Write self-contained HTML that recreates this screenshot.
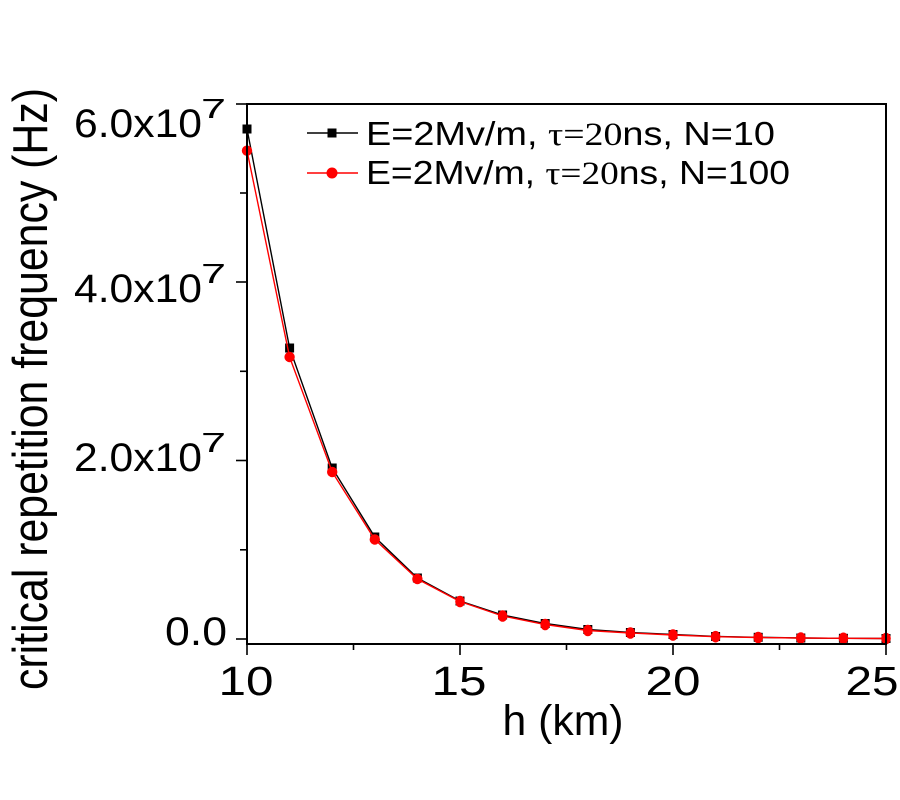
<!DOCTYPE html>
<html>
<head>
<meta charset="utf-8">
<style>
  html, body { margin: 0; padding: 0; background: #ffffff; }
  svg { display: block; }
  text { font-family: "Liberation Sans", Arial, sans-serif; fill: #000; }
</style>
</head>
<body>
<svg width="900" height="800" viewBox="0 0 900 800" xmlns="http://www.w3.org/2000/svg">
  <rect x="0" y="0" width="900" height="800" fill="#ffffff"/>

  <!-- Data series: black (N=10) -->
  <polyline fill="none" stroke="#000" stroke-width="1.4"
    points="247,129 289.6,348 332.2,468 374.8,537 417.4,578 460,601 502.6,615 545.2,623.5 587.8,629.5 630.4,632.5 673,634.5 715.6,636.5 758.2,637.3 800.8,638 843.4,638.3 886,638.5"/>
  <g fill="#000">
    <rect x="242.5" y="124.5" width="9" height="9"/>
    <rect x="285.1" y="343.5" width="9" height="9"/>
    <rect x="327.7" y="463.5" width="9" height="9"/>
    <rect x="370.3" y="532.5" width="9" height="9"/>
    <rect x="412.9" y="573.5" width="9" height="9"/>
    <rect x="455.5" y="596.5" width="9" height="9"/>
    <rect x="498.1" y="610.5" width="9" height="9"/>
    <rect x="540.7" y="619" width="9" height="9"/>
    <rect x="583.3" y="625" width="9" height="9"/>
    <rect x="625.9" y="628" width="9" height="9"/>
    <rect x="668.5" y="630" width="9" height="9"/>
    <rect x="711.1" y="632" width="9" height="9"/>
    <rect x="753.7" y="632.8" width="9" height="9"/>
    <rect x="796.3" y="633.5" width="9" height="9"/>
    <rect x="838.9" y="633.8" width="9" height="9"/>
    <rect x="881.5" y="634" width="9" height="9"/>
  </g>

  <!-- Data series: red (N=100) -->
  <polyline fill="none" stroke="#ff0000" stroke-width="1.4"
    points="247,150.7 289.6,357 332.2,472 374.8,539.5 417.4,579 460,601.5 502.6,616 545.2,624.5 587.8,630.5 630.4,633 673,635 715.6,636.7 758.2,637.5 800.8,638 843.4,638.3 886,638.5"/>
  <g fill="#ff0000">
    <circle cx="247" cy="150.7" r="5.2"/>
    <circle cx="289.6" cy="357" r="5.2"/>
    <circle cx="332.2" cy="472" r="5.2"/>
    <circle cx="374.8" cy="539.5" r="5.2"/>
    <circle cx="417.4" cy="579" r="5.2"/>
    <ellipse cx="460" cy="601.5" rx="4.8" ry="5.8"/>
    <ellipse cx="502.6" cy="616" rx="4.8" ry="5.8"/>
    <ellipse cx="545.2" cy="624.5" rx="4.8" ry="5.8"/>
    <ellipse cx="587.8" cy="630.5" rx="4.8" ry="5.8"/>
    <ellipse cx="630.4" cy="633" rx="4.8" ry="5.8"/>
    <ellipse cx="673" cy="635" rx="4.8" ry="5.8"/>
    <ellipse cx="715.6" cy="636.7" rx="4.8" ry="5.8"/>
    <ellipse cx="758.2" cy="637.5" rx="4.8" ry="5.8"/>
    <ellipse cx="800.8" cy="638" rx="4.8" ry="5.8"/>
    <ellipse cx="843.4" cy="638.3" rx="4.8" ry="5.8"/>
    <ellipse cx="886" cy="638.5" rx="4.8" ry="5.8"/>
  </g>

  <!-- Frame -->
  <rect x="247" y="104" width="639" height="540" fill="none" stroke="#000" stroke-width="2"/>

  <!-- X ticks -->
  <g stroke="#000" stroke-width="1.6">
    <line x1="247" y1="644" x2="247" y2="655"/>
    <line x1="460" y1="644" x2="460" y2="655"/>
    <line x1="673" y1="644" x2="673" y2="655"/>
    <line x1="886" y1="644" x2="886" y2="655"/>
    <line x1="353.5" y1="644" x2="353.5" y2="650"/>
    <line x1="566.5" y1="644" x2="566.5" y2="650"/>
    <line x1="779.5" y1="644" x2="779.5" y2="650"/>
  </g>

  <!-- Y ticks -->
  <g stroke="#000" stroke-width="1.6">
    <line x1="236" y1="639" x2="247" y2="639"/>
    <line x1="236" y1="460.5" x2="247" y2="460.5"/>
    <line x1="236" y1="282" x2="247" y2="282"/>
    <line x1="236" y1="104" x2="247" y2="104"/>
    <line x1="240" y1="549.8" x2="247" y2="549.8"/>
    <line x1="240" y1="371.3" x2="247" y2="371.3"/>
    <line x1="240" y1="193" x2="247" y2="193"/>
  </g>

  <!-- X tick labels -->
  <g font-size="41" text-anchor="middle">
    <text x="246" y="695" textLength="55" lengthAdjust="spacingAndGlyphs">10</text>
    <text x="459" y="695" textLength="55" lengthAdjust="spacingAndGlyphs">15</text>
    <text x="673" y="695" textLength="55" lengthAdjust="spacingAndGlyphs">20</text>
    <text x="872" y="695" textLength="53" lengthAdjust="spacingAndGlyphs">25</text>
  </g>

  <!-- Y tick labels -->
  <g font-size="40">
    <text x="202" y="137" text-anchor="end" textLength="128" lengthAdjust="spacingAndGlyphs">6.0x10</text>
    <text x="201" y="118" font-size="28" textLength="25" lengthAdjust="spacingAndGlyphs">7</text>

    <text x="202" y="302" text-anchor="end" textLength="128" lengthAdjust="spacingAndGlyphs">4.0x10</text>
    <text x="201" y="283" font-size="28" textLength="25" lengthAdjust="spacingAndGlyphs">7</text>

    <text x="202" y="471" text-anchor="end" textLength="128" lengthAdjust="spacingAndGlyphs">2.0x10</text>
    <text x="201" y="452" font-size="28" textLength="25" lengthAdjust="spacingAndGlyphs">7</text>

    <text x="227" y="645" text-anchor="end" textLength="62" lengthAdjust="spacingAndGlyphs">0.0</text>
  </g>

  <!-- Axis titles -->
  <text x="563" y="735" font-size="43" text-anchor="middle" textLength="121" lengthAdjust="spacingAndGlyphs">h (km)</text>
  <g transform="translate(47,389) scale(1.2,1) rotate(-90)">
    <text x="0" y="0" font-size="41" text-anchor="middle" textLength="602" lengthAdjust="spacingAndGlyphs">critical repetition frequency (Hz)</text>
  </g>

  <!-- Legend -->
  <line x1="307" y1="133" x2="358" y2="133" stroke="#000" stroke-width="1.4"/>
  <rect x="327.5" y="128.5" width="9" height="9" fill="#000"/>
  <text x="366" y="145" font-size="33" textLength="409" lengthAdjust="spacingAndGlyphs">E=2Mv/m, <tspan font-family="Liberation Serif, serif">τ=20</tspan>ns, N=10</text>

  <line x1="307" y1="173" x2="358" y2="173" stroke="#ff0000" stroke-width="1.4"/>
  <circle cx="332" cy="173" r="5.5" fill="#ff0000"/>
  <text x="366" y="184" font-size="33" textLength="424" lengthAdjust="spacingAndGlyphs">E=2Mv/m, <tspan font-family="Liberation Serif, serif">τ=20</tspan>ns, N=100</text>
</svg>
</body>
</html>
